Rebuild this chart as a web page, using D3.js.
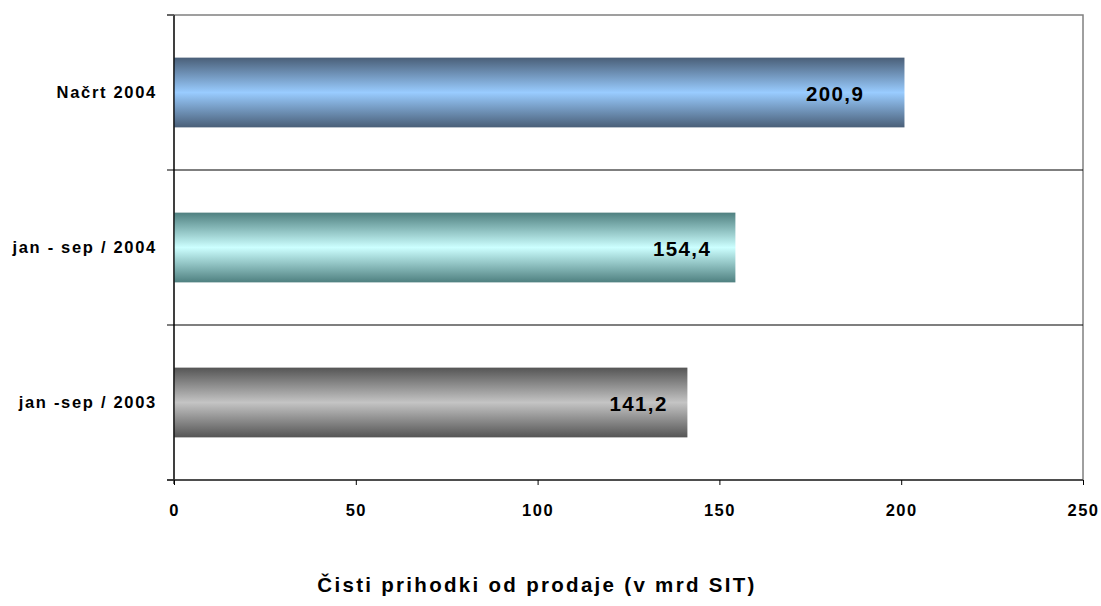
<!DOCTYPE html>
<html><head><meta charset="utf-8">
<script src="https://cdn.jsdelivr.net/npm/d3@7"></script>
<style>body{margin:0;background:#fff}svg{display:block;font-family:"Liberation Sans",Arial,sans-serif}</style>
</head><body>
<svg id="c" width="1101" height="606"></svg>
<script>
const categories = ["Načrt 2004", "jan - sep / 2004", "jan -sep / 2003"];
const values = [200.9, 154.4, 141.2];
const valueLabels = ["200,9", "154,4", "141,2"];
const tickValues = [0, 50, 100, 150, 200, 250];
const gradients = [
  ["#4a5f78", "#99ccff"],
  ["#4f8080", "#ccffff"],
  ["#555555", "#c4c4c4"]
];
const title = "Čisti prihodki od prodaje (v mrd SIT)";

const svg = d3.select("#c");
const L = 174, R = 1083, T = 15, B = 480;
const x = d3.scaleLinear().domain([0, 250]).range([L, R]);
const y = d3.scaleBand().domain(categories).range([T, B]).paddingInner(0.55).paddingOuter(0.275);

const defs = svg.append("defs");
gradients.forEach((g, i) => {
  const lg = defs.append("linearGradient").attr("id", "g" + i).attr("x1", 0).attr("x2", 0).attr("y1", 0).attr("y2", 1);
  lg.append("stop").attr("offset", "0%").attr("stop-color", g[0]);
  lg.append("stop").attr("offset", "50%").attr("stop-color", g[1]);
  lg.append("stop").attr("offset", "100%").attr("stop-color", g[0]);
});

// plot frame
svg.append("rect").attr("x", L).attr("y", T).attr("width", R - L).attr("height", B - T)
  .attr("fill", "none").attr("stroke", "#808080").attr("stroke-width", 1.5);

// band dividers
const dividers = d3.range(0, categories.length + 1).map(i => T + i * (B - T) / categories.length);
svg.selectAll("line.div").data(dividers).enter().append("line")
  .attr("x1", L - 7).attr("x2", (d, i) => (i === 0 || i === categories.length) ? L : R)
  .attr("y1", d => d).attr("y2", d => d).attr("stroke", "#000").attr("stroke-width", 1.2);

// bars
svg.selectAll("rect.bar").data(values).enter().append("rect")
  .attr("x", x(0)).attr("y", (d, i) => y(categories[i]))
  .attr("width", d => x(d) - x(0)).attr("height", y.bandwidth())
  .attr("fill", (d, i) => `url(#g${i})`);

// axes lines
svg.append("line").attr("x1", L).attr("x2", L).attr("y1", T).attr("y2", B + 4).attr("stroke", "#000").attr("stroke-width", 1.2);
svg.append("line").attr("x1", L - 7).attr("x2", R).attr("y1", B).attr("y2", B).attr("stroke", "#333").attr("stroke-width", 1.5);
svg.append("line").attr("x1", L - 7).attr("x2", L).attr("y1", T).attr("y2", T).attr("stroke", "#666").attr("stroke-width", 1.5);

// x ticks
const xa = svg.append("g").attr("transform", `translate(0,${B})`)
  .call(d3.axisBottom(x).tickValues(tickValues).tickSize(5).tickPadding(19).tickFormat(d3.format("d")));
xa.select(".domain").remove();
xa.selectAll("line").attr("stroke", "#000");
xa.selectAll("text").attr("font-size", 16.5).attr("font-weight", "bold").attr("fill", "#000")
  .attr("letter-spacing", 1.5)
  .attr("font-family", '"Liberation Sans",Arial,sans-serif');

// category labels
svg.selectAll("text.cat").data(categories).enter().append("text")
  .attr("x", 157).attr("y", d => y(d) + y.bandwidth() / 2 + 5)
  .attr("text-anchor", "end").attr("font-size", 16.5).attr("font-weight", "bold")
  .attr("letter-spacing", 1.7).text(d => d);

// value labels
svg.selectAll("text.val").data(values).enter().append("text")
  .attr("x", d => x(d * 0.905)).attr("y", (d, i) => y(categories[i]) + y.bandwidth() / 2 + 8)
  .attr("text-anchor", "middle").attr("font-size", 20.5).attr("font-weight", "bold").attr("letter-spacing", 1.4)
  .text((d, i) => valueLabels[i]);

// title
svg.append("text").attr("x", 537).attr("y", 592).attr("text-anchor", "middle")
  .attr("font-size", 20.5).attr("font-weight", "bold").attr("letter-spacing", 2.3).text(title);
</script>
</body></html>
